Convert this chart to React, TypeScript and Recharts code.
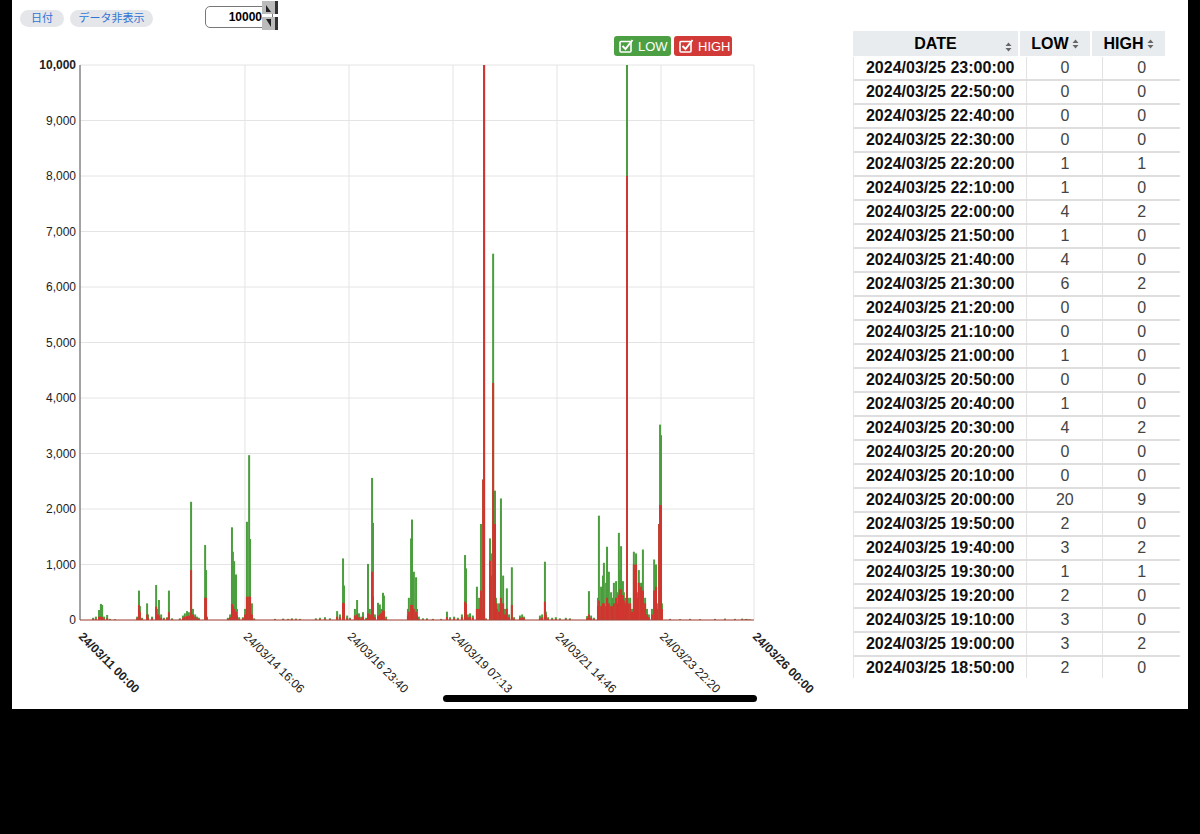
import React from "react";
import { BarChart, Bar, XAxis, YAxis, CartesianGrid } from "recharts";

type Row = [string, number, number]; // time, LOW, HIGH

const GREEN = "#4a9e3d";
const RED = "#d1352f";
const FONT = '"Liberation Sans", Arial, "Noto Sans CJK JP", sans-serif';

// chart bins per day (2024/03)
const mar11: Row[] = [
  ["07:00", 40, 20], ["08:30", 60, 20], ["10:10", 180, 60], ["11:10", 290, 60],
  ["11:50", 270, 50], ["12:50", 60, 20], ["14:30", 90, 30], ["16:00", 20, 10], ["18:40", 15, 5],
];
const mar12: Row[] = [
  ["06:30", 60, 30], ["07:30", 530, 270], ["08:00", 250, 150], ["09:10", 40, 20],
  ["11:50", 300, 100], ["12:20", 100, 40], ["14:30", 60, 30], ["16:40", 630, 240],
  ["17:40", 200, 100], ["18:10", 360, 80], ["19:20", 100, 40], ["20:50", 40, 20],
  ["22:30", 50, 30], ["23:30", 530, 140],
];
const mar13: Row[] = [
  ["01:10", 30, 10], ["05:20", 30, 10], ["07:00", 80, 40], ["08:00", 120, 60],
  ["09:10", 160, 70], ["10:10", 140, 80], ["11:20", 2130, 900], ["12:20", 200, 100],
  ["13:30", 100, 60], ["14:30", 60, 30], ["15:30", 40, 20], ["18:50", 1350, 400],
  ["19:20", 900, 400], ["19:50", 60, 30],
];
const mar14: Row[] = [
  ["07:00", 40, 20], ["08:10", 100, 50], ["09:10", 1670, 290], ["09:40", 1230, 250],
  ["10:20", 1060, 200], ["11:20", 820, 150], ["11:50", 200, 80], ["13:00", 50, 20],
  ["15:00", 50, 30], ["16:10", 200, 100], ["17:10", 1770, 420], ["18:20", 2970, 420],
  ["18:50", 1460, 420], ["19:50", 300, 100], ["21:00", 30, 10],
];
const mar15: Row[] = [
  ["08:10", 20, 10], ["12:30", 25, 10], ["15:10", 20, 10], ["17:10", 30, 15],
  ["19:20", 25, 10], ["21:30", 20, 10],
];
const mar16: Row[] = [
  ["06:00", 30, 10], ["08:10", 40, 15], ["10:50", 50, 20], ["13:30", 30, 10],
  ["17:20", 160, 60], ["18:50", 100, 50], ["20:30", 1110, 310], ["21:00", 620, 300],
  ["22:40", 80, 30],
];
const mar17: Row[] = [
  ["00:10", 40, 20], ["02:50", 200, 80], ["04:00", 360, 100], ["05:00", 120, 50],
  ["06:10", 60, 30], ["07:10", 140, 60], ["08:50", 40, 20], ["09:50", 1010, 120],
  ["10:50", 200, 100], ["12:00", 2560, 870], ["12:30", 1750, 420], ["13:30", 100, 50],
  ["15:10", 310, 80], ["16:10", 280, 100], ["16:50", 200, 120], ["17:50", 490, 170],
  ["18:20", 440, 170], ["19:30", 60, 20],
];
const mar18: Row[] = [
  ["07:10", 200, 80], ["07:40", 400, 150], ["08:50", 1470, 270], ["09:20", 1810, 270],
  ["09:50", 300, 200], ["10:20", 870, 200], ["11:30", 770, 150], ["12:00", 200, 80],
  ["13:00", 60, 20], ["15:10", 30, 10], ["17:20", 30, 10], ["20:30", 20, 10],
];
const mar19: Row[] = [
  ["00:50", 20, 10], ["04:00", 150, 50], ["05:40", 50, 20], ["07:50", 60, 30],
  ["09:50", 40, 20], ["12:00", 100, 50], ["13:40", 1170, 330], ["14:10", 930, 300],
  ["15:10", 100, 50], ["16:20", 120, 60], ["17:50", 80, 40], ["20:00", 600, 200],
  ["21:10", 400, 200], ["22:10", 1730, 530], ["22:40", 200, 100], ["23:20", 2530, 2530],
  ["23:50", 10900, 10600],
];
const mar20: Row[] = [
  ["00:50", 30, 10], ["03:00", 1470, 1070], ["03:30", 1200, 800], ["04:40", 6600, 4270],
  ["05:40", 2330, 1730], ["06:10", 400, 300], ["06:40", 300, 200], ["07:50", 300, 150],
  ["08:50", 2190, 400], ["10:00", 800, 300], ["11:00", 200, 100], ["12:00", 570, 200],
  ["13:10", 100, 50], ["14:40", 950, 270], ["15:50", 50, 20], ["19:00", 80, 40],
  ["20:10", 100, 50], ["21:10", 60, 30],
];
const mar21: Row[] = [
  ["05:40", 80, 30], ["06:50", 100, 50], ["08:20", 1050, 330], ["08:50", 150, 100],
  ["10:00", 50, 20], ["12:10", 40, 15], ["14:10", 50, 20], ["16:20", 30, 10],
  ["19:30", 40, 15], ["21:40", 30, 10],
];
const mar22: Row[] = [
  ["06:50", 70, 30], ["07:50", 520, 100], ["09:00", 80, 40], ["10:30", 40, 20],
  ["12:40", 400, 250], ["13:10", 1880, 350], ["14:20", 600, 250], ["15:20", 800, 300],
  ["15:50", 1030, 300], ["17:00", 670, 250], ["17:30", 1320, 400], ["18:30", 870, 300],
  ["19:40", 500, 250], ["20:10", 400, 250], ["21:10", 670, 300], ["22:20", 700, 400],
  ["22:50", 500, 300], ["23:50", 1570, 450],
];
const mar23: Row[] = [
  ["00:20", 900, 550], ["01:00", 1330, 550], ["02:00", 700, 450], ["02:30", 500, 350],
  ["03:10", 400, 300], ["04:10", 10900, 8000], ["04:40", 400, 300], ["05:50", 400, 300],
  ["06:50", 200, 150], ["07:50", 1230, 1000], ["08:30", 1000, 900], ["09:00", 1200, 1000],
  ["10:00", 500, 400], ["10:30", 900, 670], ["11:40", 670, 600], ["12:40", 1270, 530],
  ["13:10", 300, 200], ["13:50", 400, 300], ["14:50", 200, 100], ["15:50", 100, 50],
  ["17:30", 200, 100], ["18:40", 1090, 530], ["19:10", 500, 400], ["19:40", 1000, 600],
  ["20:10", 300, 200], ["21:20", 1730, 1730], ["21:50", 3520, 2070], ["22:20", 3330, 2070],
  ["22:50", 300, 200],
];
const mar24: Row[] = [["03:10", 20, 10], ["08:30", 15, 5], ["13:50", 20, 10], ["19:10", 15, 5]];
const mar25: Row[] = [["03:10", 20, 10], ["08:30", 25, 10], ["13:50", 20, 10], ["17:40", 25, 10]];

const xTickLabels = [
  "24/03/11 00:00", "24/03/14 16:06", "24/03/16 23:40", "24/03/19 07:13",
  "24/03/21 14:46", "24/03/23 22:20", "24/03/26 00:00",
];
const yTicks = [0, 1000, 2000, 3000, 4000, 5000, 6000, 7000, 8000, 9000, 10000];

// table (latest first)
const tableDates = [
  "2024/03/25 23:00:00", "2024/03/25 22:50:00", "2024/03/25 22:40:00", "2024/03/25 22:30:00",
  "2024/03/25 22:20:00", "2024/03/25 22:10:00", "2024/03/25 22:00:00", "2024/03/25 21:50:00",
  "2024/03/25 21:40:00", "2024/03/25 21:30:00", "2024/03/25 21:20:00", "2024/03/25 21:10:00",
  "2024/03/25 21:00:00", "2024/03/25 20:50:00", "2024/03/25 20:40:00", "2024/03/25 20:30:00",
  "2024/03/25 20:20:00", "2024/03/25 20:10:00", "2024/03/25 20:00:00", "2024/03/25 19:50:00",
  "2024/03/25 19:40:00", "2024/03/25 19:30:00", "2024/03/25 19:20:00", "2024/03/25 19:10:00",
  "2024/03/25 19:00:00", "2024/03/25 18:50:00",
];
const tableLow = [0, 0, 0, 0, 1, 1, 4, 1, 4, 6, 0, 0, 1, 0, 1, 4, 0, 0, 20, 2, 3, 1, 2, 3, 3, 2];
const tableHigh = [0, 0, 0, 0, 1, 0, 2, 0, 0, 2, 0, 0, 0, 0, 0, 2, 0, 0, 9, 0, 2, 1, 0, 0, 2, 0];

const START_DAY = 11;
const toMin = (day: number, hhmm: string) =>
  (day - START_DAY) * 1440 + Number(hhmm.slice(0, 2)) * 60 + Number(hhmm.slice(3, 5));

const pad = (n: number) => String(n).padStart(2, "0");
const fmtTick = (m: number) => {
  const d = START_DAY + Math.floor(m / 1440);
  const r = m % 1440;
  return `24/03/${pad(d)} ${pad(Math.floor(r / 60))}:${pad(r % 60)}`;
};

const xTicks = xTickLabels.map((s) => toMin(Number(s.slice(6, 8)), s.slice(9)));

const byDay: [number, Row[]][] = [
  [11, mar11], [12, mar12], [13, mar13], [14, mar14], [15, mar15], [16, mar16], [17, mar17],
  [18, mar18], [19, mar19], [20, mar20], [21, mar21], [22, mar22], [23, mar23], [24, mar24], [25, mar25],
];

const chartData = [
  ...byDay.flatMap(([d, rows]) => rows.map(([t, low, high]) => ({ t: toMin(d, t), low, high }))),
  ...tableDates.map((s, i) => ({
    t: toMin(Number(s.slice(8, 10)), s.slice(11, 16)),
    low: tableLow[i],
    high: tableHigh[i],
  })),
].sort((a, b) => a.t - b.t);

const thinBar = (fill: string) => (p: any) => {
  if (!p.height || !isFinite(p.x)) return <g />;
  const cx = p.x + p.width / 2;
  return <rect x={cx - 1} y={p.y} width={2} height={p.height} fill={fill} />;
};

const XTick = (props: any) => {
  const { x, y, payload } = props;
  const v = payload.value;
  const bold = v === xTicks[0] || v === xTicks[xTicks.length - 1];
  return (
    <text
      x={x + 5}
      y={y + 8}
      transform={`rotate(45 ${x} ${y})`}
      textAnchor="start"
      fontSize={12}
      fontFamily={FONT}
      fontWeight={bold ? 700 : 400}
      fill="#222"
    >
      {fmtTick(v)}
    </text>
  );
};

const YTick = (props: any) => {
  const { x, y, payload } = props;
  return (
    <text
      x={x + 4}
      y={y + 4}
      textAnchor="end"
      fontSize={12}
      fontFamily={FONT}
      fontWeight={payload.value === 10000 ? 700 : 400}
      fill="#222"
    >
      {payload.value.toLocaleString("en-US")}
    </text>
  );
};

const CheckIcon = () => (
  <svg width="15" height="14" viewBox="0 0 15 14" style={{ marginRight: 4 }}>
    <rect x="1" y="2.5" width="11" height="10.5" fill="none" stroke="#fff" strokeWidth="1.6" rx="1" />
    <path d="M3.5 7 L6.5 10 L13.5 1" fill="none" stroke="#fff" strokeWidth="2" />
  </svg>
);

const SortIcon = () => (
  <svg width="7" height="10" viewBox="0 0 7 10" style={{ marginLeft: 3 }}>
    <path d="M0.5 4 L3.5 0.5 L6.5 4 Z M0.5 6 L3.5 9.5 L6.5 6 Z" fill="#666" />
  </svg>
);

const pill: React.CSSProperties = {
  position: "absolute",
  top: 10,
  height: 17,
  borderRadius: 9,
  background: "#e5e6ea",
  color: "#2f74d6",
  fontSize: 11,
  lineHeight: "17px",
  textAlign: "center",
};

const legendBtn = (bg: string): React.CSSProperties => ({
  position: "absolute",
  top: 36,
  height: 20,
  borderRadius: 3,
  background: bg,
  color: "#fff",
  fontSize: 13,
  display: "flex",
  alignItems: "center",
  paddingLeft: 5,
  boxSizing: "border-box",
});

const headCell = (left: number, width: number): React.CSSProperties => ({
  position: "absolute",
  left,
  top: 0,
  width,
  height: 25,
  background: "#e8ecee",
  fontWeight: 700,
  fontSize: 16,
  display: "flex",
  alignItems: "center",
  justifyContent: "center",
});

export default function App() {
  return (
    <div
      style={{
        position: "absolute",
        left: 0,
        top: 0,
        width: 1200,
        height: 834,
        background: "#000",
        fontFamily: FONT,
        overflow: "hidden",
      }}
    >
      <div style={{ position: "absolute", left: 12, top: 0, width: 1176, height: 709, background: "#fff" }} />

      {/* top controls */}
      <div style={{ ...pill, left: 20, width: 44 }}>日付</div>
      <div style={{ ...pill, left: 70, width: 83 }}>データ非表示</div>
      <div
        style={{
          position: "absolute",
          left: 205,
          top: 6,
          width: 56,
          height: 20,
          border: "1px solid #777",
          borderRadius: 5,
          fontSize: 12,
          fontWeight: 700,
          lineHeight: "20px",
          textAlign: "right",
          paddingRight: 10,
        }}
      >
        10000
      </div>
      <svg style={{ position: "absolute", left: 262, top: 0 }} width="17" height="31" viewBox="0 0 17 31">
        <rect x="0" y="1" width="16" height="13" fill="#bbb" />
        <rect x="0" y="17" width="16" height="13" fill="#bbb" />
        <rect x="13" y="1" width="3" height="13" fill="#333" />
        <rect x="13" y="17" width="3" height="13" fill="#333" />
        <path d="M4 12 L9 12 L4 5 Z" fill="#222" />
        <path d="M4 19 L9 19 L9 27 Z" fill="#222" />
      </svg>

      {/* legend */}
      <div style={{ ...legendBtn("#4ca043"), left: 614, width: 57 }}>
        <CheckIcon />
        LOW
      </div>
      <div style={{ ...legendBtn("#d23a37"), left: 674, width: 58 }}>
        <CheckIcon />
        HIGH
      </div>

      {/* chart */}
      <div style={{ position: "absolute", left: 0, top: 0 }}>
        <BarChart
          width={840}
          height={700}
          data={chartData}
          margin={{ top: 65, right: 86, left: 20, bottom: 10 }}
          barGap={0}
          barCategoryGap={0}
        >
          <CartesianGrid xAxisId="low" stroke="#e4e4e4" />
          <XAxis
            xAxisId="low"
            dataKey="t"
            type="number"
            domain={[0, xTicks[xTicks.length - 1]]}
            ticks={xTicks}
            interval={0}
            tick={<XTick />}
            tickLine={false}
            axisLine={{ stroke: "#a8473b" }}
            height={70}
            allowDataOverflow
          />
          <XAxis
            xAxisId="high"
            dataKey="t"
            type="number"
            orientation="top"
            domain={[0, xTicks[xTicks.length - 1]]}
            hide
            allowDataOverflow
          />
          <YAxis
            domain={[0, 10000]}
            ticks={yTicks}
            interval={0}
            tick={<YTick />}
            tickLine={false}
            axisLine={{ stroke: "#555" }}
            width={60}
            allowDataOverflow
          />
          <Bar xAxisId="low" dataKey="low" fill={GREEN} shape={thinBar(GREEN)} isAnimationActive={false} />
          <Bar xAxisId="high" dataKey="high" fill={RED} shape={thinBar(RED)} isAnimationActive={false} />
        </BarChart>
      </div>

      {/* table */}
      <div style={{ position: "absolute", left: 853, top: 31, width: 327, height: 647, overflow: "hidden" }}>
        <div style={headCell(0, 165)}>
          <span>DATE</span>
          <span style={{ position: "absolute", right: 6, top: 7 }}>
            <SortIcon />
          </span>
        </div>
        <div style={headCell(167, 70)}>
          LOW
          <SortIcon />
        </div>
        <div style={headCell(239, 73)}>
          HIGH
          <SortIcon />
        </div>
        <div style={{ position: "absolute", left: 0, top: 26, width: 327 }}>
          {tableDates.map((d, i) => (
            <div
              key={d}
              style={{
                display: "flex",
                height: 22,
                borderBottom: "2px solid #dedede",
                borderLeft: "1px solid #e6e6e6",
                fontSize: 16,
                lineHeight: "22px",
              }}
            >
              <div style={{ width: 173, textAlign: "center", fontWeight: 700, color: "#111", borderRight: "1px solid #e2e2e2" }}>
                {d}
              </div>
              <div style={{ width: 75, textAlign: "center", color: "#444", borderRight: "1px solid #e2e2e2" }}>
                {tableLow[i]}
              </div>
              <div style={{ width: 77, textAlign: "center", color: "#444" }}>{tableHigh[i]}</div>
            </div>
          ))}
        </div>
      </div>

      {/* home indicator */}
      <div style={{ position: "absolute", left: 443, top: 695, width: 314, height: 7, borderRadius: 4, background: "#000" }} />
    </div>
  );
}
